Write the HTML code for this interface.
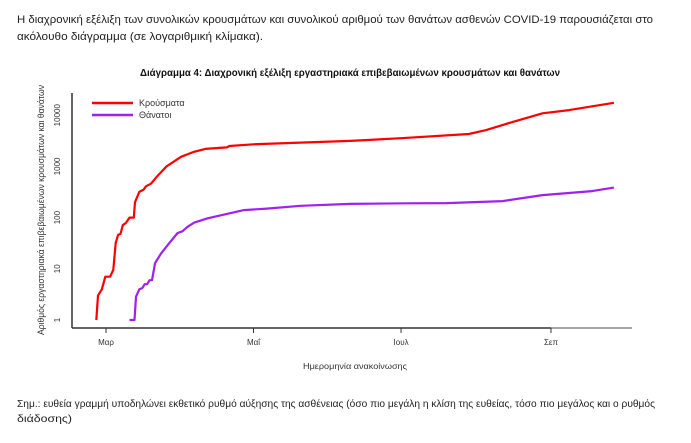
<!DOCTYPE html>
<html><head><meta charset="utf-8"><style>
body{margin:0;background:#fff;width:691px;height:443px;overflow:hidden}
svg{display:block;font-family:"Liberation Sans",sans-serif}
</style></head><body>
<svg id="c" width="691" height="443">
<text x="17" y="23" font-size="11" fill="#222" textLength="636" lengthAdjust="spacingAndGlyphs">Η διαχρονική εξέλιξη των συνολικών κρουσμάτων και συνολικού αριθμού των θανάτων ασθενών COVID-19 παρουσιάζεται στο</text>
<text x="17" y="40" font-size="11" fill="#222" textLength="246" lengthAdjust="spacingAndGlyphs">ακόλουθο διάγραμμα (σε λογαριθμική κλίμακα).</text>
<text x="350" y="76" font-size="10" font-weight="bold" text-anchor="middle" fill="#111" textLength="420" lengthAdjust="spacingAndGlyphs">Διάγραμμα 4: Διαχρονική εξέλιξη εργαστηριακά επιβεβαιωμένων κρουσμάτων και θανάτων</text>
<text transform="translate(44,210) rotate(-90)" font-size="9" text-anchor="middle" fill="#333" textLength="250" lengthAdjust="spacingAndGlyphs">Αριθμός εργαστηριακά επιβεβαιωμένων κρουσμάτων και θανάτων</text>
<text x="355" y="369" font-size="8" text-anchor="middle" fill="#333" textLength="104" lengthAdjust="spacingAndGlyphs">Ημερομηνία ανακοίνωσης</text>
<text x="17" y="407" font-size="10" fill="#222" textLength="638" lengthAdjust="spacingAndGlyphs">Σημ.: ευθεία γραμμή υποδηλώνει εκθετικό ρυθμό αύξησης της ασθένειας (όσο πιο μεγάλη η κλίση της ευθείας, τόσο πιο μεγάλος και ο ρυθμός</text>
<text x="17" y="422" font-size="10" fill="#222" textLength="55" lengthAdjust="spacingAndGlyphs">διάδοσης)</text>
<line x1="72" y1="93" x2="72" y2="328" stroke="#333" stroke-width="1.5"/>
<line x1="72" y1="328" x2="551" y2="328" stroke="#333" stroke-width="1.5"/>
<line x1="551" y1="328" x2="632" y2="328" stroke="#888" stroke-width="1.5"/>
<g id="ticks"></g>
<g id="series"></g>
<line x1="92" y1="103" x2="133" y2="103" stroke="#f00" stroke-width="2.5"/>
<text x="139" y="106" font-size="9" fill="#333">Κρούσματα</text>
<line x1="92" y1="115" x2="133" y2="115" stroke="#a020f0" stroke-width="2.5"/>
<text x="139" y="118" font-size="9" fill="#333">Θάνατοι</text>
</svg>
<script>
const yTickValues=[1,10,100,1000,10000];
const yTickLabels=["1","10","100","1000","10000"];
const xTickDays=[0,61,122,184];
const xTickLabels=["Μαρ","Μαΐ","Ιουλ","Σεπ"];
const casesDays=[-4,-3.3,-1.7,-0.3,1.7,3,4,5,6,7,8.2,9.7,11.5,12,13.8,15.5,16.6,18.6,21,25,31,36,41,50,51,61,101,122,150,157,166.6,180.5,191.5,210];
const casesValues=[1,3,4,7,7,9.5,32,46,48,72,78,100,100,200,320,350,410,460,630,1000,1540,1900,2200,2350,2500,2700,3150,3550,4300,5100,7000,10900,12600,17500];
const deathsDays=[9.7,11.8,12.4,13.8,15,16,17,18,19,20.3,22.8,25.5,29.6,31.6,33.7,36.5,42,50,57,66.5,80.5,101,124.5,141,164,180.5,201,210];
const deathsValues=[1,1,2.85,4,4.2,5,5,6,6,13,20,29,50,54,66,80,97,118,140,150,170,185,190,192,210,275,330,385];
const NS="http://www.w3.org/2000/svg";
function xs(d){return 106+d*(445/184);}
function ys(v){return 320-Math.log10(v)*51.2;}
const tg=document.getElementById('ticks');
yTickValues.forEach((v,i)=>{
  const t=document.createElementNS(NS,'text');
  
  
  t.setAttribute('transform',`translate(60,${ys(v)}) rotate(-90)`);
  t.setAttribute('text-anchor','middle');t.setAttribute('font-size','8');t.setAttribute('fill','#333');
  t.textContent=yTickLabels[i];tg.appendChild(t);
});
xTickDays.forEach((d,i)=>{
  const l=document.createElementNS(NS,'line');
  
  
  l.setAttribute('x1',xs(d));l.setAttribute('x2',xs(d));l.setAttribute('y1',328);l.setAttribute('y2',333);
  l.setAttribute('stroke','#333');tg.appendChild(l);
  const t=document.createElementNS(NS,'text');
  
  
  t.setAttribute('x',xs(d));t.setAttribute('y',345);t.setAttribute('text-anchor','middle');
  t.setAttribute('font-size','8');t.setAttribute('fill','#333');t.textContent=xTickLabels[i];tg.appendChild(t);
});
const sg=document.getElementById('series');
function line(days,vals,color,name){
  const p=document.createElementNS(NS,'polyline');
  
  
  p.setAttribute('points',days.map((d,i)=>xs(d).toFixed(1)+','+ys(vals[i]).toFixed(1)).join(' '));
  p.setAttribute('fill','none');p.setAttribute('stroke',color);p.setAttribute('stroke-width','2.2');
  p.setAttribute('stroke-linejoin','round');sg.appendChild(p);
}
line(casesDays,casesValues,'#f00','cases-line');
line(deathsDays,deathsValues,'#a020f0','deaths-line');
</script>
</body></html>
